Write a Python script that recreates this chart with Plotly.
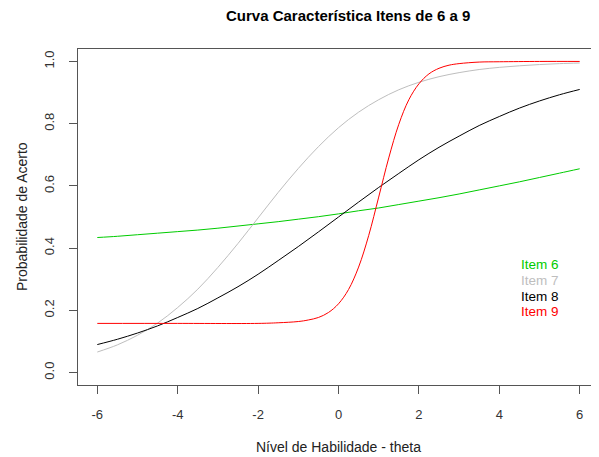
import plotly.graph_objects as go

# Theta grid for items 6-8
theta = [-6, -5.5, -5, -4.5, -4, -3.5, -3, -2.5, -2, -1.5, -1, -0.5, 0,
         0.5, 1, 1.5, 2, 2.5, 3, 3.5, 4, 4.5, 5, 5.5, 6]

item6 = [0.434, 0.438, 0.443, 0.448, 0.453, 0.458, 0.464, 0.471, 0.478, 0.485,
         0.493, 0.501, 0.510, 0.520, 0.529, 0.540, 0.551, 0.562, 0.574, 0.587,
         0.600, 0.613, 0.627, 0.641, 0.655]

item7 = [0.066, 0.089, 0.120, 0.159, 0.209, 0.268, 0.338, 0.415, 0.497, 0.579,
         0.656, 0.726, 0.787, 0.837, 0.877, 0.909, 0.933, 0.951, 0.964, 0.974,
         0.981, 0.986, 0.990, 0.993, 0.995]

item8 = [0.090, 0.107, 0.127, 0.150, 0.177, 0.206, 0.240, 0.276, 0.316, 0.360,
         0.405, 0.452, 0.500, 0.548, 0.595, 0.640, 0.684, 0.724, 0.760, 0.794,
         0.823, 0.850, 0.873, 0.893, 0.910]

# Item 9 is steep: denser grid where it rises
theta9 = [-6, -4, -2, -1.5, -1, -0.75, -0.5, -0.25, 0, 0.25, 0.5, 0.75, 1,
          1.25, 1.5, 1.75, 2, 2.25, 2.5, 2.75, 3, 3.5, 4, 5, 6]
item9 = [0.158, 0.158, 0.158, 0.160, 0.164, 0.169, 0.177, 0.193, 0.221, 0.267,
         0.339, 0.440, 0.564, 0.690, 0.798, 0.877, 0.928, 0.960, 0.978, 0.988,
         0.993, 0.998, 0.999, 1.000, 1.000]

x_ticks = [-6, -4, -2, 0, 2, 4, 6]
y_ticks = [0.0, 0.2, 0.4, 0.6, 0.8, 1.0]
y_tick_text = ["0.0", "0.2", "0.4", "0.6", "0.8", "1.0"]

legend_labels = ["Item 6", "Item 7", "Item 8", "Item 9"]
colors = ["#00CC00", "#BEBEBE", "#000000", "#FF0000"]

FONT = "Liberation Sans, Arial, sans-serif"

fig = go.Figure()
series = [(theta, item6), (theta, item7), (theta, item8), (theta9, item9)]
for (xs, ys), name, col in zip(series, legend_labels, colors):
    fig.add_trace(go.Scatter(x=xs, y=ys, mode="lines", name=name,
                             line=dict(color=col, width=1, shape="spline"),
                             showlegend=False, hoverinfo="skip"))

# Legend as coloured text (no symbols, no box)
leg_y = [0.347, 0.296, 0.245, 0.197]
for lab, col, yy in zip(legend_labels, colors, leg_y):
    fig.add_annotation(x=4.49, y=yy, xref="x", yref="y", text=lab,
                       showarrow=False, xanchor="left", yanchor="middle",
                       font=dict(family=FONT, size=13.5, color=col))

fig.add_annotation(x=0.5, y=1.0, xref="paper", yref="paper", yshift=34, xshift=9,
                   text="<b>Curva Característica Itens de 6 a 9</b>",
                   showarrow=False, xanchor="center", yanchor="middle",
                   font=dict(family=FONT, size=15, color="#000000"))
fig.add_annotation(x=0.5, y=0, xref="paper", yref="paper", yshift=-62,
                   text="Nível de Habilidade - theta", showarrow=False,
                   xanchor="center", yanchor="middle",
                   font=dict(family=FONT, size=14, color="#222222"))
fig.add_annotation(x=0, y=0.5, xref="paper", yref="paper", xshift=-56,
                   text="Probabilidade de Acerto", showarrow=False, textangle=-90,
                   xanchor="center", yanchor="middle",
                   font=dict(family=FONT, size=14, color="#222222"))

axis_common = dict(showgrid=False, zeroline=False, showline=True, mirror=True,
                   linecolor="#555555", linewidth=1, ticks="outside", ticklen=8,
                   tickcolor="#555555", tickwidth=1,
                   tickfont=dict(family=FONT, size=13, color="#333333"))

# The page body has an 8px default margin, so the figure is 8px smaller
fig.update_layout(
    width=591, height=449,
    margin=dict(l=70, r=0, t=41, b=72),
    paper_bgcolor="white", plot_bgcolor="white",
    xaxis=dict(range=[-6.48, 6.48], tickvals=x_ticks,
               ticktext=[str(v) for v in x_ticks], ticklabelstandoff=9,
               **axis_common),
    yaxis=dict(range=[-0.04, 1.04], tickvals=y_ticks, ticktext=y_tick_text,
               tickangle=-90, ticklabelstandoff=10, **axis_common),
)

fig.write_html("out.html")
